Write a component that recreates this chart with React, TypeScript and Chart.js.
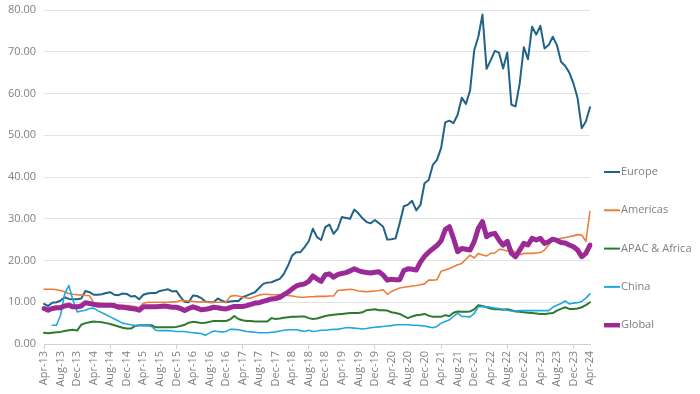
import React, { useEffect, useRef } from 'react';
import { Chart, registerables } from 'chart.js';

Chart.register(...registerables);

const MONTHS = ['Jan', 'Feb', 'Mar', 'Apr', 'May', 'Jun', 'Jul', 'Aug', 'Sep', 'Oct', 'Nov', 'Dec'];
const START_MONTH = 3; // Apr
const START_YEAR = 13;
const N_MONTHS = 133; // Apr-13 .. Apr-24
const labels: string[] = Array.from({ length: N_MONTHS }, (_, i) => {
  const m = (START_MONTH + i) % 12;
  const y = START_YEAR + Math.floor((START_MONTH + i) / 12);
  return `${MONTHS[m]}-${y}`;
});

const yTicks = [0, 10, 20, 30, 40, 50, 60, 70, 80];

const europe = [
  9.6, 9.1, 9.9, 10.0, 10.4, 11.2, 10.8, 10.7, 10.7, 10.9,
  12.7, 12.4, 11.8, 11.8, 11.9, 12.2, 12.4, 11.8, 11.7, 12.1,
  12.0, 11.4, 11.5, 10.7, 11.8, 12.1, 12.2, 12.2, 12.7, 12.9,
  13.1, 12.6, 12.7, 11.3, 10.1, 10.0, 11.6, 11.5, 11.0, 10.2,
  10.0, 10.0, 10.9, 10.4, 10.0, 10.2, 10.3, 10.3, 11.2, 11.6,
  12.0, 12.4, 13.4, 14.4, 14.7, 14.8, 15.2, 15.6, 16.8, 18.8,
  21.2, 22.0, 22.0, 23.2, 24.6, 27.6, 25.6, 24.9, 28.0, 28.6,
  26.4, 27.6, 30.4, 30.2, 30.0, 32.2, 31.3, 30.1, 29.2, 28.9,
  29.7, 28.9, 28.1, 25.0, 25.1, 25.3, 29.0, 33.0, 33.4, 34.3,
  32.0, 33.3, 38.5, 39.3, 42.9, 44.1, 46.9, 53.1, 53.5, 52.9,
  54.9, 59.0, 57.5, 60.7, 70.3, 73.6, 78.9, 65.9, 68.0, 70.2,
  69.8, 66.0, 69.8, 57.3, 56.9, 62.4, 71.1, 68.2, 76.0, 74.1,
  76.2, 70.8, 71.6, 73.6, 71.6, 67.6, 66.6, 65.0, 62.4, 58.9,
  51.7, 53.3, 56.7,
];

const americas = [
  13.1, 13.1, 13.1, 13.0, 12.8, 12.5, 12.1, 11.9, 11.8, 11.7,
  11.6, 11.6, 9.9, 9.8, 9.7, 9.6, 9.5, 9.4, 9.4, 9.3,
  9.2, 9.1, 9.0, 8.7, 9.7, 10.0, 10.0, 10.0, 10.0, 10.0,
  10.0, 10.1, 10.1, 10.4, 10.4, 10.3, 10.2, 10.1, 10.1, 10.1,
  10.0, 10.0, 10.0, 10.0, 10.0, 11.4, 11.6, 11.5, 11.2, 11.0,
  11.0, 11.4, 11.7, 11.9, 11.9, 11.8, 11.8, 11.8, 11.7, 11.6,
  11.5, 11.3, 11.2, 11.2, 11.3, 11.3, 11.4, 11.4, 11.4, 11.5,
  11.5, 12.8, 12.9, 13.0, 13.1, 13.0, 12.7, 12.6, 12.5, 12.6,
  12.7, 12.8, 13.0, 11.9, 12.6, 13.0, 13.4, 13.6, 13.7, 13.9,
  14.0, 14.2, 14.4, 15.3, 15.3, 15.4, 17.4, 17.7, 18.1, 18.5,
  19.0, 19.3, 20.3, 21.3, 20.6, 21.7, 21.3, 21.1, 21.7, 21.8,
  22.7, 22.6, 22.3, 22.7, 21.9, 21.4, 21.7, 21.7, 21.7, 21.8,
  21.9, 22.5, 23.7, 24.9, 25.1, 25.3, 25.5, 25.7, 25.9, 26.2,
  26.1, 24.6, 31.8,
];

const apacAfrica = [
  2.7, 2.6, 2.7, 2.8, 2.9, 3.1, 3.3, 3.4, 3.2, 4.6,
  5.0, 5.2, 5.4, 5.3, 5.2, 5.0, 4.8, 4.5, 4.2, 3.9,
  3.7, 3.7, 4.3, 4.5, 4.5, 4.5, 4.5, 4.0, 4.0, 4.0,
  4.0, 4.0, 4.1, 4.3, 4.6, 5.1, 5.3, 5.2, 5.0, 5.1,
  5.3, 5.5, 5.5, 5.5, 5.5, 5.9, 6.7, 6.0, 5.7, 5.5,
  5.5, 5.4, 5.4, 5.4, 5.4, 6.2, 6.0, 6.1, 6.3, 6.4,
  6.5, 6.5, 6.6, 6.6, 6.2, 6.0, 6.1, 6.4, 6.7, 6.9,
  7.0, 7.1, 7.2, 7.3, 7.4, 7.4, 7.4, 7.6, 8.1, 8.2,
  8.3, 8.1, 8.1, 8.0, 7.6, 7.4, 7.2, 6.7, 6.2, 6.6,
  6.9, 7.0, 7.2, 6.8, 6.5, 6.5, 6.5, 6.9, 6.7, 7.5,
  7.8, 7.7, 7.7, 7.8, 8.3, 9.3, 9.1, 8.8, 8.5, 8.3,
  8.3, 8.2, 8.3, 8.1, 7.8, 7.7, 7.6, 7.5, 7.4, 7.3,
  7.2, 7.2, 7.3, 7.4, 8.0, 8.4, 8.8, 8.4, 8.4, 8.5,
  8.8, 9.3, 10.0,
];

const china = [
  null, null, 4.5, 4.5, 6.9, 12.0, 14.0, 10.5, 7.7, 7.9,
  8.1, 8.5, 8.6, 8.0, 7.5, 7.0, 6.5, 6.0, 5.5, 5.0,
  4.8, 4.6, 4.4, 4.4, 4.4, 4.4, 4.2, 3.3, 3.2, 3.2,
  3.2, 3.1, 3.0, 3.0, 3.0, 2.8, 2.7, 2.6, 2.5, 2.1,
  2.6, 3.1, 3.0, 2.9, 3.0, 3.5, 3.5, 3.4, 3.2, 3.0,
  2.9, 2.8, 2.7, 2.7, 2.7, 2.8, 2.9, 3.1, 3.3, 3.4,
  3.4, 3.4, 3.2, 3.0, 3.3, 3.0, 3.1, 3.3, 3.3, 3.4,
  3.5, 3.5, 3.7, 3.9, 3.9, 3.8, 3.7, 3.6, 3.7, 3.9,
  4.0, 4.1, 4.2, 4.3, 4.4, 4.6, 4.6, 4.6, 4.6, 4.5,
  4.5, 4.4, 4.3, 4.1, 3.9, 4.2, 5.0, 5.4, 5.8, 6.6,
  7.4, 6.6, 6.6, 6.5, 7.3, 8.9, 9.0, 8.9, 8.8, 8.6,
  8.5, 8.3, 8.1, 7.9, 7.9, 8.0, 8.0, 8.0, 8.0, 8.0,
  8.0, 8.0, 8.0, 8.8, 9.3, 9.7, 10.3, 9.6, 9.8, 9.9,
  10.2, 11.0, 12.0,
];

const globalIdx = [
  8.5, 8.1, 8.5, 8.7, 8.7, 9.1, 9.3, 8.9, 8.9, 9.1,
  9.9, 9.7, 9.5, 9.3, 9.3, 9.3, 9.3, 9.2, 8.8, 8.8,
  8.7, 8.5, 8.4, 8.1, 8.9, 8.9, 8.9, 8.9, 9.0, 9.1,
  9.0, 8.8, 8.8, 8.5, 8.0, 8.5, 8.9, 8.6, 8.2, 8.3,
  8.5, 8.8, 8.7, 8.5, 8.4, 8.7, 9.0, 9.0, 9.0, 9.2,
  9.5, 9.8, 9.9, 10.2, 10.5, 10.8, 10.9, 11.2, 11.8, 12.4,
  13.2, 13.9, 14.2, 14.4, 15.0, 16.3, 15.6, 15.0, 16.6, 16.8,
  16.0, 16.6, 16.9, 17.1, 17.5, 18.0, 17.6, 17.3, 17.1, 17.0,
  17.2, 17.3, 16.5, 15.3, 15.5, 15.4, 15.4, 17.6, 18.0, 17.9,
  17.7, 19.6, 21.0, 22.0, 22.8, 23.6, 24.7, 27.4, 28.1, 25.3,
  22.1, 22.9, 22.7, 22.5, 24.5, 27.7, 29.3, 25.7, 26.3, 26.5,
  24.9, 23.7, 24.6, 21.7, 20.9, 22.5, 24.1, 23.7, 25.3, 24.9,
  25.3, 24.1, 24.5, 25.1, 24.8, 24.3, 24.2, 23.7, 23.3, 22.5,
  20.9, 21.7, 23.7,
];

const seriesNames = ['Europe', 'Americas', 'APAC & Africa', 'China', 'Global'];
const seriesColors = ['#1f6488', '#ee7d3a', '#2b7a2e', '#20a7df', '#9c2a96'];
const seriesWidths = [2, 1.6, 2, 1.6, 5];
const seriesData = [europe, americas, apacAfrica, china, globalIdx];

const FONT = '"Open Sans", "Noto Sans", sans-serif';
const TEXT_COLOR = '#808080';
const GRID_COLOR = '#e3e3e3';

const sideLegend = {
  id: 'sideLegend',
  afterDraw(chart: any) {
    const { ctx, chartArea } = chart;
    const x0 = chartArea.right + 14;
    const top = chartArea.top + 162;
    const step = 38.3;
    chart.data.datasets.forEach((ds: any, k: number) => {
      const y = top + k * step;
      ctx.save();
      ctx.strokeStyle = ds.borderColor;
      ctx.lineWidth = k === 4 ? 4.5 : 2;
      ctx.lineCap = 'butt';
      ctx.beginPath();
      ctx.moveTo(x0, y);
      ctx.lineTo(x0 + 16, y);
      ctx.stroke();
      ctx.fillStyle = TEXT_COLOR;
      ctx.font = `11px ${FONT}`;
      ctx.textBaseline = 'middle';
      ctx.textAlign = 'left';
      ctx.fillText(ds.label, x0 + 17, y);
      ctx.restore();
    });
  },
};

export default function App() {
  const ref = useRef<HTMLCanvasElement | null>(null);

  useEffect(() => {
    document.body.style.margin = '0';
    const canvas = ref.current;
    if (!canvas) return;
    const chart = new Chart(canvas, {
      type: 'line',
      data: {
        labels,
        datasets: seriesData.map((d, k) => ({
          label: seriesNames[k],
          data: d,
          borderColor: seriesColors[k],
          backgroundColor: seriesColors[k],
          borderWidth: seriesWidths[k],
          pointRadius: 0,
          pointHoverRadius: 0,
          tension: 0,
          fill: false,
          borderJoinStyle: 'round',
          borderCapStyle: 'round',
          order: 5 - k,
        })),
      },
      options: {
        responsive: false,
        animation: false,
        events: [],
        layout: { padding: { top: 0, right: 110, bottom: 0, left: 0 } },
        plugins: {
          legend: { display: false },
          tooltip: { enabled: false },
        },
        scales: {
          x: {
            type: 'category',
            offset: false,
            grid: {
              drawOnChartArea: false,
              drawTicks: true,
              tickLength: 5,
              color: (c: any) => (c.index % 4 === 0 ? '#d0d0d0' : 'rgba(0,0,0,0)'),
              tickColor: (c: any) => (c.index % 4 === 0 ? '#d0d0d0' : 'rgba(0,0,0,0)'),
            },
            border: { display: true, color: '#d0d0d0' },
            ticks: {
              autoSkip: false,
              maxRotation: 90,
              minRotation: 90,
              padding: 2,
              color: TEXT_COLOR,
              font: { family: FONT, size: 11 },
              callback: (_v: any, i: number) => (i % 4 === 0 ? labels[i] : null),
            },
            afterFit: (s: any) => {
              s.height = 50;
            },
          },
          y: {
            min: yTicks[0],
            max: yTicks[yTicks.length - 1],
            afterBuildTicks: (s: any) => {
              s.ticks = yTicks.map((v) => ({ value: v }));
            },
            grid: { color: GRID_COLOR, drawTicks: false },
            border: { display: false },
            ticks: {
              padding: 8,
              color: TEXT_COLOR,
              font: { family: FONT, size: 11 },
              callback: (v: any) => Number(v).toFixed(2),
            },
            afterFit: (s: any) => {
              s.width = 44;
              s.paddingTop = 10;
              s.paddingBottom = 0;
            },
          },
        },
      },
      plugins: [sideLegend],
    } as any);
    return () => chart.destroy();
  }, []);

  return (
    <div style={{ width: 700, height: 394, background: '#ffffff' }}>
      <canvas ref={ref} width={700} height={394} style={{ display: 'block' }} />
    </div>
  );
}
